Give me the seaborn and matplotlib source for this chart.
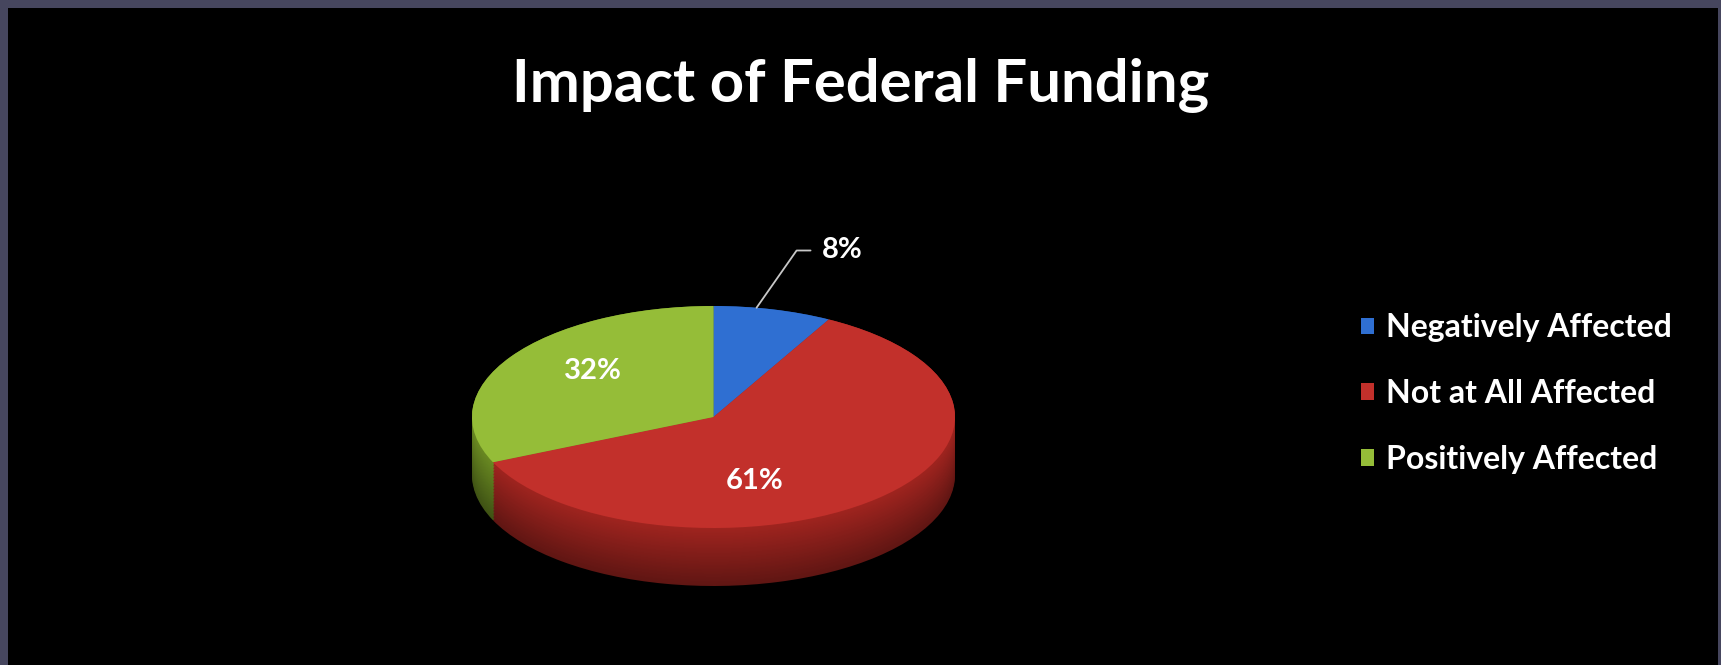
import numpy as np
import matplotlib
matplotlib.use('Agg')
import matplotlib.pyplot as plt
import seaborn as sns
from matplotlib.colors import to_rgb
from matplotlib.patches import Patch, Rectangle

categories = ['Negatively Affected', 'Not at All Affected', 'Positively Affected']
shares = [8, 61, 32]
pct_labels = ['8%', '61%', '32%']
title = 'Impact of Federal Funding'

if __name__ == '__main__':
    sns.set_theme(style='dark')
    plt.rcParams['font.family'] = ['Lato', 'DejaVu Sans']

    top_colors = ['#2f6fd2', '#c2302b', '#95bd38']
    side_colors = ['#1f4c90', '#a0241f', '#6a8a22']

    W, H = 1721, 665
    fig = plt.figure(figsize=(W / 100, H / 100), dpi=100, facecolor='#46465e')
    fig.add_artist(Rectangle((8 / W, 0), 1710 / W, 657 / H, transform=fig.transFigure,
                             facecolor='black', edgecolor='none', zorder=-1))

    # pie area: top face 483 x 222 px, side depth 58 px
    ax = fig.add_axes([472 / W, (H - 586) / H, 483 / W, 280 / H])
    depth = 58 / 111

    # side of the 3d pie, stacked copies from bottom (dark) to top
    n = 40
    for i, d in enumerate(np.linspace(depth, 0.0, n)):
        f = 0.6 + 0.4 * i / (n - 1)
        cols = [tuple(v * f for v in to_rgb(c)) for c in side_colors]
        ax.pie(shares, startangle=90, counterclock=False, colors=cols,
               center=(0, -d), radius=1, wedgeprops=dict(linewidth=0))

    wedges, _ = ax.pie(shares, startangle=90, counterclock=False, colors=top_colors,
                       center=(0, 0), radius=1, wedgeprops=dict(linewidth=0))

    ax.set_aspect('auto')
    ax.set_xlim(-1, 1)
    ax.set_ylim(-1 - depth, 1)
    ax.set_axis_off()
    ax.patch.set_alpha(0)

    # outside label with leader for the small slice
    w = wedges[0]
    mid = np.deg2rad((w.theta1 + w.theta2) / 2 + 4)
    ax.annotate(pct_labels[0], xy=(np.cos(mid), np.sin(mid)), xytext=(0.45, 1.50),
                ha='left', va='center', fontsize=21, fontweight='bold', color='white',
                annotation_clip=False,
                arrowprops=dict(arrowstyle='-', color='#c8c8c8', lw=1.3, relpos=(0, 0.5),
                                shrinkA=6, shrinkB=0,
                                connectionstyle='angle,angleA=0,angleB=55'))

    label_pos = [None, (0.17, -0.58), (-0.50, 0.41)]
    for lab, pos in zip(pct_labels[1:], label_pos[1:]):
        ax.text(pos[0], pos[1], lab, ha='center', va='center', fontsize=21,
                fontweight='bold', color='white')

    fig.text(0.5, 0.871, title, ha='center', va='center', fontsize=43,
             fontweight='bold', color='white')

    handles = [Patch(facecolor=c, edgecolor='none', label=l) for c, l in zip(top_colors, categories)]
    fig.legend(handles=handles, loc='upper left', bbox_to_anchor=(1361 / W, 0.529),
               frameon=False, labelcolor='white', handlelength=0.42,
               handleheight=0.42, handletextpad=0.35, labelspacing=1.15,
               borderpad=0, borderaxespad=0, prop={'weight': 'bold', 'size': 23})

    fig.savefig('out.png', dpi=100, facecolor=fig.get_facecolor())
